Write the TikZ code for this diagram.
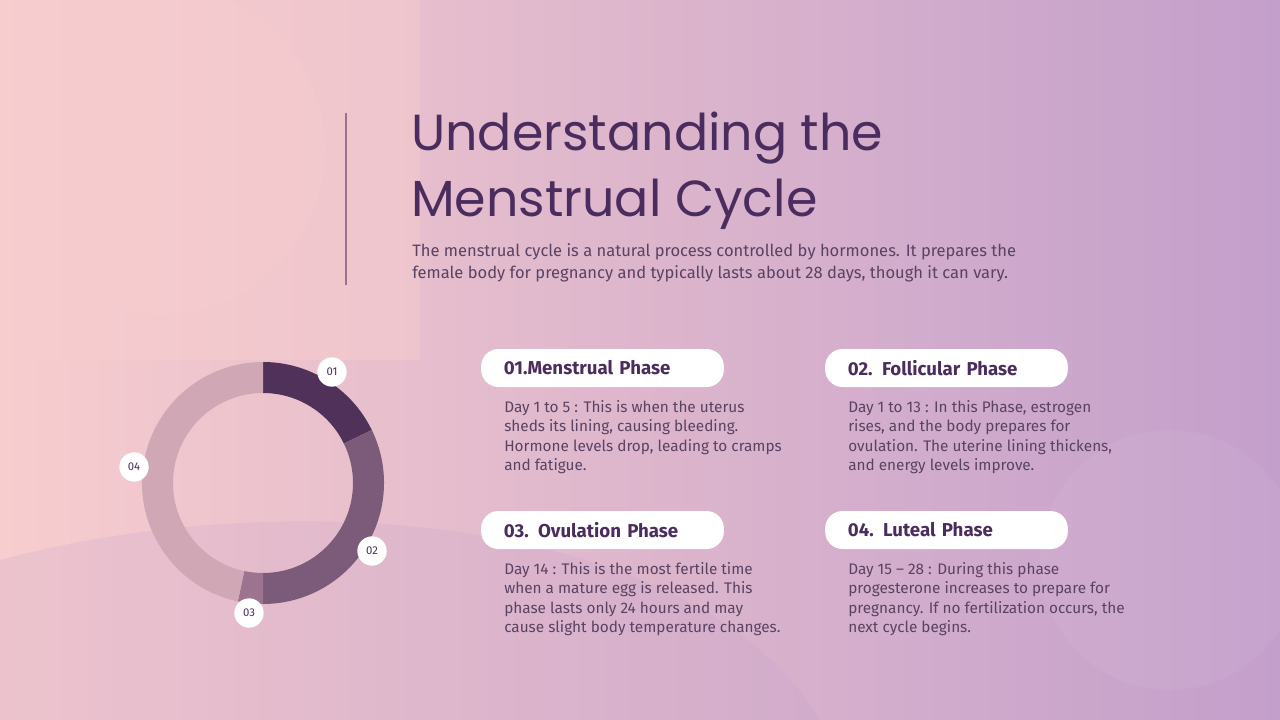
\documentclass[tikz,border=0pt]{standalone}
\usepackage{fontspec}
\setmainfont{Fira Sans}
\newfontfamily\titlefont{Poppins}
\begin{document}
\begin{tikzpicture}[x=0.75pt,y=-0.75pt,
  pill/.style={fill=white,rounded corners=13pt,minimum width=182pt,minimum height=28.5pt,inner sep=0pt,font=\fontsize{14}{16}\selectfont\bfseries,text=title,text width=148pt,align=left},
  desc/.style={anchor=north west,inner sep=0pt,font=\fontsize{11.5}{14.6}\selectfont,text=body,align=left},
  num/.style={circle,fill=white,minimum size=22pt,inner sep=0pt,font=\fontsize{8.5}{9}\selectfont,text=title}]
\definecolor{bgA}{HTML}{F7CDCE}
\definecolor{bgB}{HTML}{C39FCB}
\definecolor{title}{HTML}{4B2C5E}
\definecolor{body}{HTML}{5A4262}
\definecolor{cA}{HTML}{4F3159}
\definecolor{cB}{HTML}{7C5A7A}
\definecolor{cC}{HTML}{9C7490}
\definecolor{cD}{HTML}{CFA7B5}
\definecolor{vline}{HTML}{9A7290}
\useasboundingbox (0,0) rectangle (1280,720);
\shade[shading=axis,shading angle=-65,left color=bgA,right color=bgB,middle color=bgA!50!bgB] (0,0) rectangle (1280,720);
\fill[bgA,opacity=0.5] (0,0) rectangle (420,360);
\fill[bgA,opacity=0.35] (160,150) circle (165);
\fill[bgB,opacity=0.2] (0,720) -- (0,560) .. controls (300,480) and (700,520) .. (820,720) -- cycle;
\fill[white,opacity=0.05] (1170,560) circle (130);
% title
\draw[vline,line width=1.5pt] (346,113) -- (346,285);
\node[anchor=north west,inner sep=0pt,align=left,text=title,font=\titlefont\fontsize{38}{49}\selectfont] (t) at (411,112) {Understanding the\\Menstrual Cycle};
\node[anchor=north west,inner sep=0pt,align=left,text=body,font=\fontsize{12.4}{16.5}\selectfont] (sub) at (412,243) {The menstrual cycle is a natural process controlled by hormones. It prepares the\\female body for pregnancy and typically lasts about 28 days, though it can vary.};
% donut
\coordinate (c) at (263,483);
\fill[cA] ([shift={(-90:121)}]c) arc[start angle=-90,end angle=-26,radius=121] -- ([shift={(-26:90)}]c) arc[start angle=-26,end angle=-90,radius=90] -- cycle;
\fill[cB] ([shift={(-26:121)}]c) arc[start angle=-26,end angle=90,radius=121] -- ([shift={(90:90)}]c) arc[start angle=90,end angle=-26,radius=90] -- cycle;
\fill[cC] ([shift={(90:121)}]c) arc[start angle=90,end angle=102,radius=121] -- ([shift={(102:90)}]c) arc[start angle=102,end angle=90,radius=90] -- cycle;
\fill[cD] ([shift={(102:121)}]c) arc[start angle=102,end angle=270,radius=121] -- ([shift={(270:90)}]c) arc[start angle=270,end angle=102,radius=90] -- cycle;
\node[num] (n1) at (332,372) {01};
\node[num] (n2) at (372,551) {02};
\node[num] (n3) at (249,613) {03};
\node[num] (n4) at (134,467) {04};
% phases
\node[pill] (p1) at (602.5,368) {01.Menstrual Phase};
\node[pill] (p2) at (946.5,368) {02. Follicular Phase};
\node[pill] (p3) at (602.5,530) {03. Ovulation Phase};
\node[pill] (p4) at (946.5,530) {04. Luteal Phase};
\node[desc] (d1) at (504,400) {Day 1 to 5 : This is when the uterus\\sheds its lining, causing bleeding.\\Hormone levels drop, leading to cramps\\and fatigue.};
\node[desc] (d2) at (848,400) {Day 1 to 13 : In this Phase, estrogen\\rises, and the body prepares for\\ovulation. The uterine lining thickens,\\and energy levels improve.};
\node[desc] (d3) at (504,562) {Day 14 : This is the most fertile time\\when a mature egg is released. This\\phase lasts only 24 hours and may\\cause slight body temperature changes.};
\node[desc] (d4) at (848,562) {Day 15 – 28 : During this phase\\progesterone increases to prepare for\\pregnancy. If no fertilization occurs, the\\next cycle begins.};
\end{tikzpicture}
\end{document}
